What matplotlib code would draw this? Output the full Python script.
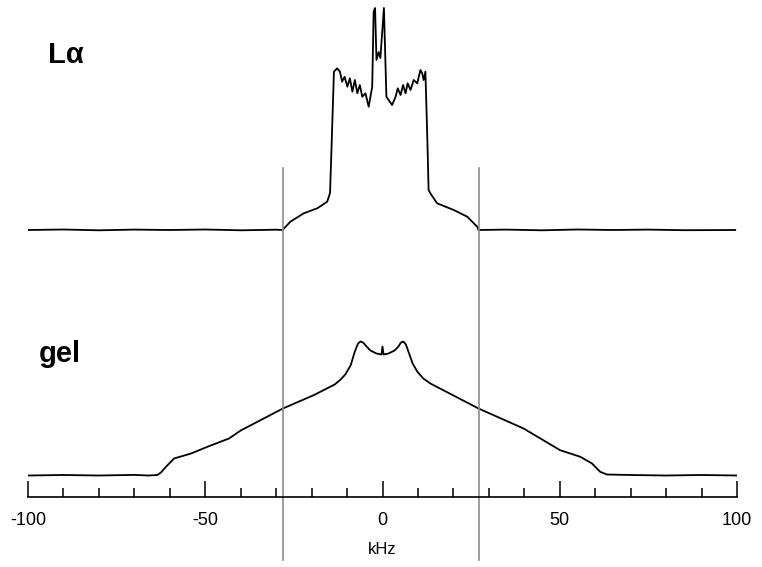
import matplotlib.pyplot as plt

plt.rcParams['axes.unicode_minus'] = False

# L-alpha spectrum: frequency (kHz) and intensity above its baseline
la_khz = [-100, -90, -80, -70, -60, -50, -40, -30, -28.2, -26.0, -22.2, -18.4, -15.6, -14.8, -14.4,
          -13.7, -12.8, -12.0, -11.4, -10.7, -9.9, -9.2, -8.5, -7.8, -7.1, -6.4, -5.7, -4.8, -3.9,
          -2.9, -2.5, -2.1, -1.7, -1.1, -0.6, 0.4, 1.1, 2.7, 3.7, 4.3, 5.1, 5.8, 6.5, 7.1, 7.9, 8.8,
          9.8, 10.7, 11.2, 11.6, 12.1, 12.5, 12.8, 13.0, 13.5, 15.4, 20.1, 23.9, 26.7, 27.1,
          35, 45, 55, 65, 75, 85, 99.5]
la_int = [0, 0.5, -0.3, 0.4, 0, 0.5, -0.3, 0.3, 0, 8.3, 16.7, 21.7, 28.3, 37, 80,
          158.3, 161.7, 158.3, 148.3, 153.3, 143.3, 151.7, 138.3, 150, 136.7, 145, 133.3, 136.7, 123.3,
          143.3, 218.3, 222, 170, 178, 172, 222, 133.3, 125, 133.3, 141.7, 135, 145, 136.7, 146.7, 140, 150,
          146.7, 160, 156.7, 150, 158.3, 110, 70, 40, 36.7, 26.7, 20, 13.3, 3.3, 0,
          0.4, -0.3, 0.5, 0, 0.4, -0.2, 0]

# gel spectrum
gel_khz = [-100, -90, -80, -70, -66, -63.5, -62.5, -61, -58.8, -54, -49.4, -43.3, -40, -28.1, -19.3,
           -13.5, -11.8, -10.5, -9.0, -7.8, -6.9, -6.2, -5.5, -4.5, -3.4, -1.7, -0.3, 0, 0.3,
           1.7, 3.4, 4.5, 5.2, 5.9, 6.6, 7.5, 8.5, 9.8, 11.5, 13.5, 27.1, 39.8, 50.1, 55.8, 59.1,
           61.4, 63.3, 70, 80, 90, 100]
gel_int = [0, 0.5, 0, 0.6, 0, 0.5, 3, 9, 17, 22, 28.7, 37, 45, 67, 80.5,
           91, 96, 101, 110, 124, 132, 134, 133, 129, 125, 122, 121, 129, 121,
           122, 125, 129, 133, 134, 131, 122, 112, 104, 97, 92, 67, 47, 25.3, 18.7, 12,
           3.7, 1, 0.5, 0, 0.5, 0]

la_base = 337
gel_base = 91.5
axis_y = 70.5
marker_khz = [-28.2, 27.1]

fig = plt.figure(figsize=(7.62, 5.67), dpi=100)
ax = fig.add_axes([28 / 762, 0, 709 / 762, 1])
ax.set_xlim(-100, 100)
ax.set_ylim(0, 567)

ax.plot(la_khz, [v + la_base for v in la_int], color='black', lw=1.3)
ax.plot(gel_khz, [v + gel_base for v in gel_int], color='black', lw=1.3)
for k in marker_khz:
    ax.plot([k, k], [7, 399], color='#8c8c8c', lw=1.2)

for s in ['top', 'left', 'right']:
    ax.spines[s].set_visible(False)
ax.spines['bottom'].set_position(('data', axis_y))
ax.spines['bottom'].set_linewidth(1.2)
ax.set_yticks([])
ax.set_xticks([-100, -50, 0, 50, 100])
ax.set_xticks(range(-90, 100, 10), minor=True)
ax.tick_params(axis='x', which='major', direction='in', length=11.5, width=1.1,
               pad=11, labelsize=13)
ax.tick_params(axis='x', which='minor', direction='in', length=6.5, width=1.1)
for lab in ax.get_xticklabels():
    lab.set_family(['Liberation Sans', 'DejaVu Sans'])

ax.text(0, 18, 'kHz', ha='center', va='center', fontsize=12,
        family=['Liberation Sans', 'DejaVu Sans'])
ax.text(-94.3, 504, 'L\u03b1', ha='left', va='baseline', fontsize=21, fontweight='bold',
        family=['Liberation Sans', 'DejaVu Sans'])
ax.text(-97, 205, 'gel', ha='left', va='baseline', fontsize=21, fontweight='bold',
        family=['Liberation Sans', 'DejaVu Sans'])

fig.savefig('out.png', dpi=100)
